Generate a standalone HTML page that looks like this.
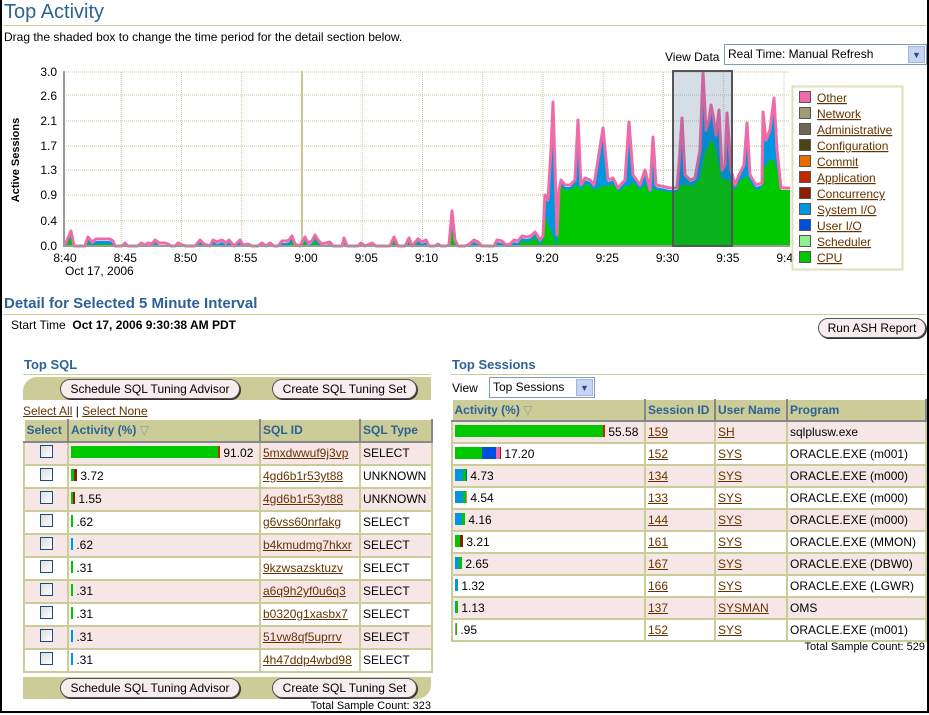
<!DOCTYPE html>
<html><head><meta charset="utf-8"><style>
body{margin:0;width:929px;height:715px;overflow:hidden;background:#fff;font-family:"Liberation Sans",Arial,sans-serif;font-size:12px;color:#000;position:relative}
.a{position:absolute;white-space:nowrap}
.frame{position:absolute;left:0;top:0;width:925px;height:711px;border:2px solid #000;border-top:none}
.h1{color:#2c6296;font-size:20px}
.h2{color:#2c6296;font-size:15px;font-weight:bold}
.h3{color:#2c6296;font-size:13px;font-weight:bold}
.rule{position:absolute;height:1px;background:#cccc99}
.lnk{color:#663300;text-decoration:underline}
.btn{position:absolute;height:18px;border:1px solid #555;border-radius:10px;background:#f8ecee;font-size:12px;line-height:18px;text-align:center;box-shadow:1px 1px 0 #333}
.sel{position:absolute;border:1px solid #7f9db9;background:#fff;font-size:12px;line-height:18px;padding-left:3px}
.sel i{position:absolute;right:1px;top:1px;width:15px;bottom:1px;background:#c6d5f3;border:1px solid #9fb4de;font-style:normal;font-size:9px;text-align:center;line-height:16px;color:#2b4b8b}
table{position:absolute;border-collapse:collapse;table-layout:fixed}
td,th{border:2px solid #cccc99;padding:0 2px;font-size:12px;white-space:nowrap;overflow:hidden}
th{background:#cccc99;color:#2c6296;text-align:left;border-color:#fff #888 #888 #fff;border-width:1px 2px 2px 1px}
#t1 tr{height:23px} #t1 tr:first-child{height:22px}
#t2 tr{height:22px} #t2 tr:first-child{height:21px}
tr.p td{background:#f7e6e6}
.cb{display:inline-block;width:11px;height:11px;border:1px solid #1c4c7c;background:linear-gradient(135deg,#dcdcdc,#fff)}
.bar{display:inline-block;height:12px;vertical-align:-1px}
.band{position:absolute;background:#cccc99}
</style></head><body>
<div class="frame"></div>
<div class="a h1" style="left:4px;top:1px">Top Activity</div>
<div class="rule" style="left:3px;top:25px;width:923px"></div>
<div class="a" style="left:4px;top:30px">Drag the shaded box to change the time period for the detail section below.</div>
<div class="a" style="left:665px;top:50px">View Data</div>
<div class="sel" style="left:724px;top:44px;width:198px;height:19px">Real Time: Manual Refresh<i>▼</i></div>

<svg class="a" style="left:0;top:60px" width="929" height="230" viewBox="0 60 929 230" id="ch">
<g font-size="12" font-family="Liberation Sans,Arial,sans-serif" text-anchor="end">
<text x="57" y="76">3.0</text><text x="57" y="100">2.6</text><text x="57" y="125">2.1</text><text x="57" y="150">1.7</text><text x="57" y="174">1.3</text><text x="57" y="199">0.9</text><text x="57" y="225">0.4</text><text x="57" y="250">0.0</text>
</g>
<text transform="translate(19,160) rotate(-90)" text-anchor="middle" font-size="11" font-weight="bold" font-family="Liberation Sans,Arial,sans-serif">Active Sessions</text>
<g id="grid" stroke="#c8c89a" stroke-dasharray="1,1"></g>
<line x1="64" y1="71" x2="64" y2="246" stroke="#999" stroke-width="2"/>
<line x1="302" y1="71" x2="302" y2="246" stroke="#c8c890" stroke-width="2"/>
<g id="data"></g>
<line x1="63" y1="246" x2="790" y2="246" stroke="#999" stroke-width="2"/>
<rect x="673" y="71" width="59" height="175" fill="rgb(45,85,130)" fill-opacity="0.2" stroke="#555" stroke-width="2"/>
<g font-size="12" font-family="Liberation Sans,Arial,sans-serif" text-anchor="middle" id="xl"></g>
<text x="65" y="275" font-size="12" font-family="Liberation Sans,Arial,sans-serif">Oct 17, 2006</text>
<rect x="792.5" y="86.5" width="110" height="183" fill="#fff" stroke="#e0deb8" stroke-width="2"/>
<g id="leg" font-size="12" font-family="Liberation Sans,Arial,sans-serif" fill="#663300"></g>
</svg>

<div class="a h2" style="left:4px;top:295px">Detail for Selected 5 Minute Interval</div>
<div class="rule" style="left:3px;top:314px;width:923px"></div>
<div class="a" style="left:11px;top:318px">Start Time&nbsp;&nbsp;<b>Oct 17, 2006 9:30:38 AM PDT</b></div>
<div class="btn" style="left:818px;top:318px;width:106px">Run ASH Report</div>

<div class="a h3" style="left:24px;top:357px">Top SQL</div>
<div class="rule" style="left:23px;top:374px;width:408px"></div>
<div class="band" style="left:23px;top:377px;width:408px;height:23px;border-top-left-radius:14px"></div>
<div class="btn" style="left:60px;top:379px;width:178px">Schedule SQL Tuning Advisor</div>
<div class="btn" style="left:272px;top:379px;width:143px">Create SQL Tuning Set</div>
<div class="a" style="left:23px;top:404px"><span class="lnk">Select All</span> | <span class="lnk">Select None</span></div>
<table id="t1" style="left:23px;top:419px;width:408px">
<colgroup><col style="width:44px"><col style="width:192px"><col style="width:100px"><col style="width:72px"></colgroup>
<tr><th>Select</th><th>Activity (%) <span style="color:#999;font-weight:normal">▽</span></th><th>SQL ID</th><th>SQL Type</th></tr>
<tr class="p"><td style="text-align:center"><span class="cb"></span></td><td><span class="bar" style="width:147px;background:#00c800"></span><span class="bar" style="width:2px;background:#c02800"></span> 91.02</td><td class="lnk">5mxdwwuf9j3vp</td><td>SELECT</td></tr>
<tr><td style="text-align:center"><span class="cb"></span></td><td><span class="bar" style="width:3px;background:#00c800"></span><span class="bar" style="width:3px;background:#8a2000"></span> 3.72</td><td class="lnk">4gd6b1r53yt88</td><td>UNKNOWN</td></tr>
<tr class="p"><td style="text-align:center"><span class="cb"></span></td><td><span class="bar" style="width:2px;background:#00c800"></span><span class="bar" style="width:2px;background:#8a2000"></span> 1.55</td><td class="lnk">4gd6b1r53yt88</td><td>UNKNOWN</td></tr>
<tr><td style="text-align:center"><span class="cb"></span></td><td><span class="bar" style="width:2px;background:#00c800"></span> .62</td><td class="lnk">g6vss60nrfakg</td><td>SELECT</td></tr>
<tr class="p"><td style="text-align:center"><span class="cb"></span></td><td><span class="bar" style="width:2px;background:#0096e0"></span> .62</td><td class="lnk">b4kmudmg7hkxr</td><td>SELECT</td></tr>
<tr><td style="text-align:center"><span class="cb"></span></td><td><span class="bar" style="width:2px;background:#00c800"></span> .31</td><td class="lnk">9kzwsazsktuzv</td><td>SELECT</td></tr>
<tr class="p"><td style="text-align:center"><span class="cb"></span></td><td><span class="bar" style="width:2px;background:#00c800"></span> .31</td><td class="lnk">a6q9h2yf0u6q3</td><td>SELECT</td></tr>
<tr><td style="text-align:center"><span class="cb"></span></td><td><span class="bar" style="width:2px;background:#00c800"></span> .31</td><td class="lnk">b0320g1xasbx7</td><td>SELECT</td></tr>
<tr class="p"><td style="text-align:center"><span class="cb"></span></td><td><span class="bar" style="width:2px;background:#0096e0"></span> .31</td><td class="lnk">51vw8qf5uprrv</td><td>SELECT</td></tr>
<tr><td style="text-align:center"><span class="cb"></span></td><td><span class="bar" style="width:2px;background:#0096e0"></span> .31</td><td class="lnk">4h47ddp4wbd98</td><td>SELECT</td></tr>
</table>
<div class="band" style="left:23px;top:677px;width:408px;height:22px;border-bottom-right-radius:14px"></div>
<div class="btn" style="left:60px;top:678px;width:178px">Schedule SQL Tuning Advisor</div>
<div class="btn" style="left:272px;top:678px;width:143px">Create SQL Tuning Set</div>
<div class="a" style="right:498px;top:700px;font-size:11px">Total Sample Count: 323</div>

<div class="a h3" style="left:452px;top:357px">Top Sessions</div>
<div class="rule" style="left:451px;top:374px;width:475px"></div>
<div class="a" style="left:452px;top:381px">View</div>
<div class="sel" style="left:489px;top:377px;width:101px;height:19px">Top Sessions<i>▼</i></div>
<table id="t2" style="left:451px;top:399px;width:474px">
<colgroup><col style="width:193px"><col style="width:70px"><col style="width:72px"><col style="width:139px"></colgroup>
<tr><th>Activity (%) <span style="color:#999;font-weight:normal">▽</span></th><th>Session ID</th><th>User Name</th><th>Program</th></tr>
<tr class="p"><td><span class="bar" style="width:148px;background:#00c800"></span><span class="bar" style="width:2px;background:#c02800"></span> 55.58</td><td class="lnk">159</td><td class="lnk">SH</td><td>sqlplusw.exe</td></tr>
<tr><td><span class="bar" style="width:27px;background:#00c800"></span><span class="bar" style="width:14px;background:#0050e0"></span><span class="bar" style="width:4px;background:#f06aa8"></span><span class="bar" style="width:1px;background:#8a2000"></span> 17.20</td><td class="lnk">152</td><td class="lnk">SYS</td><td>ORACLE.EXE (m001)</td></tr>
<tr class="p"><td><span class="bar" style="width:8px;background:#0096e0"></span><span class="bar" style="width:3px;background:#00c800"></span><span class="bar" style="width:1px;background:#0050e0"></span> 4.73</td><td class="lnk">134</td><td class="lnk">SYS</td><td>ORACLE.EXE (m000)</td></tr>
<tr><td><span class="bar" style="width:8px;background:#0096e0"></span><span class="bar" style="width:3px;background:#00c800"></span><span class="bar" style="width:1px;background:#f06aa8"></span> 4.54</td><td class="lnk">133</td><td class="lnk">SYS</td><td>ORACLE.EXE (m000)</td></tr>
<tr class="p"><td><span class="bar" style="width:7px;background:#0096e0"></span><span class="bar" style="width:3px;background:#00c800"></span> 4.16</td><td class="lnk">144</td><td class="lnk">SYS</td><td>ORACLE.EXE (m000)</td></tr>
<tr><td><span class="bar" style="width:5px;background:#00c800"></span><span class="bar" style="width:3px;background:#8a2000"></span> 3.21</td><td class="lnk">161</td><td class="lnk">SYS</td><td>ORACLE.EXE (MMON)</td></tr>
<tr class="p"><td><span class="bar" style="width:4px;background:#0096e0"></span><span class="bar" style="width:3px;background:#00c800"></span> 2.65</td><td class="lnk">167</td><td class="lnk">SYS</td><td>ORACLE.EXE (DBW0)</td></tr>
<tr><td><span class="bar" style="width:3px;background:#0096e0"></span> 1.32</td><td class="lnk">166</td><td class="lnk">SYS</td><td>ORACLE.EXE (LGWR)</td></tr>
<tr class="p"><td><span class="bar" style="width:1px;background:#0096e0"></span><span class="bar" style="width:2px;background:#00c800"></span> 1.13</td><td class="lnk">137</td><td class="lnk">SYSMAN</td><td>OMS</td></tr>
<tr><td><span class="bar" style="width:1px;background:#f06aa8"></span><span class="bar" style="width:1px;background:#00c800"></span> .95</td><td class="lnk">152</td><td class="lnk">SYS</td><td>ORACLE.EXE (m001)</td></tr>
</table>
<div class="a" style="right:4px;top:641px;font-size:11px">Total Sample Count: 529</div>

<script>
var NS="http://www.w3.org/2000/svg";
function el(p,t,a,tx){var e=document.createElementNS(NS,t);for(var k in a)e.setAttribute(k,a[k]);if(tx)e.textContent=tx;p.appendChild(e);return e;}
var g=document.getElementById('grid');
[72,95,121,146,170,195,221].forEach(function(y){el(g,'line',{x1:64,y1:y,x2:790,y2:y});});
var xl=document.getElementById('xl');
var labs=["8:40","8:45","8:50","8:55","9:00","9:05","9:10","9:15","9:20","9:25","9:30","9:35","9:40"];
for(var i=0;i<13;i++){var x=61+i*60.25;if(i>0&&i!=4)el(g,'line',{x1:x,y1:72,x2:x,y2:246});el(xl,'text',{x:x+4,y:262},labs[i]);}
var low=[64,246,68,238,71,231,74,246,85,246,88,237,92,242,96,239,110,239,113,241,115,246,122,246,125,243,128,246,138,246,141,243,145,245,148,243,152,244,155,240,159,243,165,243,168,244,171,246,175,246,178,243,182,245,186,246,195,246,200,240,204,244,210,246,213,240,217,242,222,240,226,243,229,240,234,246,240,240,243,245,248,244,252,246,258,246,262,243,266,246,270,243,274,246,278,246,282,241,286,241,289,240,292,236,295,244,300,246,305,237,308,243,312,241,315,235,318,240,322,244,330,242,333,246,342,246,344,238,347,246,358,246,361,243,365,246,372,243,376,246,390,246,394,237,398,246,405,246,409,238,412,246,418,239,422,242,426,240,429,246,435,246,438,244,441,246,446,246,449,245,452,211,455,240,458,246,465,246,468,245,474,240,478,242,482,246,494,246,497,240,502,241,506,245,510,244,514,240,518,241,522,236,527,237,531,236,535,232,540,240,543,236];
var pts=[];for(var i=0;i<low.length;i+=2){var t=low[i+1];pts.push([low[i],t,Math.min(246,t+(t<220?20:5))]);}
var hi=[[545,195,215],[548,200,225],[551,150,230],[553,102,235],[556,200,245],[557,235,246],[559,190,200],[561,180,186],[565,185,190],[570,185,190],[575,180,186],[578,120,186],[581,185,190],[585,178,184],[590,180,186],[594,185,190],[598,160,188],[603,128,186],[608,180,186],[613,178,184],[618,188,192],[625,180,186],[629,122,186],[633,175,182],[640,185,190],[645,170,184],[650,190,194],[653,137,188],[656,185,190],[670,188,192],[677,188,192],[679,165,186],[682,118,186],[685,175,184],[690,180,186],[695,178,184],[700,150,178],[703,72,160],[706,130,150],[709,120,145],[711,105,140],[713,115,142],[716,135,150],[719,110,165],[722,170,180],[725,165,178],[727,113,180],[731,170,182],[735,185,190],[739,175,182],[744,165,178],[747,123,176],[750,175,182],[756,185,190],[762,183,188],[763,112,170],[766,140,165],[770,130,160],[774,98,160],[777,150,170],[781,188,190],[790,188,190]];
pts=pts.concat(hi);
var d=document.getElementById('data');
function poly(idx,off){var s="64,246 ";pts.forEach(function(p){s+=p[0]+","+(Math.min(246,p[idx]+off))+" ";});return s+"790,246";}
el(d,'polygon',{points:poly(1,2),fill:'#0096e0'});
el(d,'polygon',{points:poly(2,0),fill:'#00c800'});
var s="";pts.forEach(function(p){s+=p[0]+","+p[1]+" ";});
el(d,'polyline',{points:s,fill:'none',stroke:'#f06aa8','stroke-width':3,'stroke-linejoin':'round'});
var L=[["Other","#f06aa8"],["Network","#a09a78"],["Administrative","#6e6656"],["Configuration","#4a4416"],["Commit","#e86c00"],["Application","#c02800"],["Concurrency","#8a2000"],["System I/O","#0096e0"],["User I/O","#0050e0"],["Scheduler","#90f090"],["CPU","#00c800"]];
var lg=document.getElementById('leg');
L.forEach(function(l,i){var y=91+i*16;el(lg,'rect',{x:799.5,y:y+0.5,width:11,height:11,fill:l[1],stroke:'#555'});el(lg,'text',{x:817,y:y+11,'text-decoration':'underline'},l[0]);});
</script>
</body></html>
